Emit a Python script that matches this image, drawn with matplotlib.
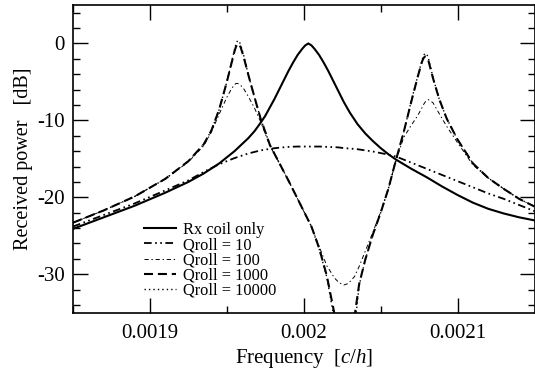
import numpy as np
import matplotlib
matplotlib.use("Agg")
import matplotlib.pyplot as plt
from matplotlib.ticker import MultipleLocator

plt.rcParams['font.family'] = ['Liberation Serif', 'DejaVu Serif']
plt.rcParams['mathtext.fontset'] = 'custom'
plt.rcParams['mathtext.rm'] = 'Liberation Serif'
plt.rcParams['mathtext.it'] = 'Liberation Serif:italic'
plt.rcParams['axes.unicode_minus'] = False
plt.rcParams['lines.scale_dashes'] = False

# frequencies in units of 1e-5 c/h
rx_freq = [185.0, 187.0, 189.0, 191.0, 192.5, 193.5, 194.5, 195.5, 196.4, 196.8,
           197.2, 197.5, 197.8, 198.1, 198.4, 198.7, 199.0, 199.3, 199.6, 199.9,
           200.1, 200.3, 200.5, 200.7, 201.0, 201.3, 201.6, 201.9, 202.2, 202.6,
           203.0, 203.5, 204.0, 204.5, 205.0, 205.5, 206.0, 207.0, 208.0, 209.0,
           210.0, 211.0, 212.0, 213.0, 214.0, 215.0]

rx_only = [-24.1, -22.6, -21.1, -19.4, -18.0, -16.9, -15.6, -14.0, -12.3, -11.4,
           -10.3, -9.4, -8.3, -7.2, -6.0, -4.8, -3.6, -2.5, -1.5, -0.7,
           -0.25, 0.0, -0.25, -0.7, -1.5, -2.5, -3.6, -4.8, -6.0, -7.6,
           -9.0, -10.5, -11.7, -12.7, -13.6, -14.4, -15.1, -16.3, -17.4, -18.6,
           -19.7, -20.7, -21.5, -22.1, -22.6, -23.0]

q10 = [-23.8, -22.3, -20.8, -19.1, -17.8, -16.7, -15.7, -14.9, -14.3, -14.1,
       -13.9, -13.8, -13.7, -13.62, -13.55, -13.5, -13.45, -13.42, -13.4, -13.4,
       -13.4, -13.4, -13.4, -13.4, -13.4, -13.42, -13.45, -13.48, -13.5, -13.6,
       -13.66, -13.75, -13.9, -14.05, -14.25, -14.45, -14.7, -15.5, -16.3, -17.1,
       -17.9, -18.7, -19.5, -20.2, -21.0, -21.8]

q_freq = [185.0, 187.0, 189.0, 191.0, 192.5, 193.5, 194.0, 194.5, 195.0, 195.3,
          195.5, 195.6, 195.7, 195.8, 195.9, 196.1, 196.4, 196.8, 197.2, 197.8,
          198.4, 199.0, 199.5, 200.0, 200.5, 201.0, 201.5, 202.0, 202.3, 202.6,
          202.9, 203.3, 203.6, 204.0, 204.5, 205.0, 205.5, 206.0, 206.5, 207.0,
          207.4, 207.7, 207.8, 207.9, 208.0, 208.1, 208.4, 208.8, 209.3, 210.0,
          211.0, 212.0, 213.0, 214.0, 215.0]

q100 = [-23.3, -21.7, -19.9, -17.6, -15.4, -13.3, -11.5, -9.2, -7.0, -5.9,
        -5.35, -5.2, -5.2, -5.3, -5.45, -5.9, -6.9, -8.4, -10.2, -13.3,
        -15.5, -17.8, -19.8, -21.8, -23.8, -26.4, -28.9, -30.5, -31.1, -31.4,
        -31.2, -30.3, -29.0, -27.0, -24.5, -21.9, -18.9, -15.2, -12.2, -10.6,
        -9.4, -8.3, -7.9, -7.6, -7.4, -7.3, -7.7, -9.1, -10.8, -12.9,
        -15.8, -17.5, -18.9, -20.2, -21.2]

q1000 = [-23.3, -21.7, -19.9, -17.6, -15.3, -13.1, -11.3, -8.6, -5.0, -2.6,
         -1.0, -0.4, -0.05, -0.1, -0.5, -1.8, -4.1, -7.0, -9.8, -13.2,
         -15.5, -17.8, -19.8, -21.8, -23.8, -26.6, -30.2, -35.2, -39.0, -42.0,
         -41.0, -35.5, -31.3, -28.1, -24.8, -22.0, -18.9, -15.1, -11.5, -7.5,
         -4.4, -2.3, -1.85, -1.7, -1.8, -2.2, -4.5, -7.2, -9.8, -12.5,
         -15.6, -17.5, -18.9, -20.2, -21.2]

q10000 = [-23.3, -21.7, -19.9, -17.6, -15.3, -13.1, -11.3, -8.6, -5.0, -2.5,
          -0.8, 0.0, 0.35, 0.3, -0.2, -1.6, -4.1, -7.0, -9.8, -13.2,
          -15.5, -17.8, -19.8, -21.8, -23.8, -26.7, -30.4, -36.0, -45.0, -55.0,
          -48.0, -37.0, -31.5, -28.1, -24.8, -22.0, -18.9, -15.1, -11.5, -7.4,
          -4.3, -2.1, -1.5, -1.3, -1.4, -1.9, -4.4, -7.2, -9.8, -12.5,
          -15.6, -17.5, -18.9, -20.2, -21.2]

f_rx = np.array(rx_freq) * 1e-5
f_q = np.array(q_freq) * 1e-5

fig = plt.figure(figsize=(5.35, 3.69), dpi=100)
ax = fig.add_axes([73 / 535, 56.3 / 369, 461.5 / 535, 307.7 / 369])

ax.plot(f_rx, rx_only, color='black', lw=1.5, label='Rx coil only')
ax.plot(f_rx, q10, color='black', lw=1.3, dashes=(5.5, 2.5, 1.2, 2.5, 1.2, 2.5),
        label='Qroll = 10')
ax.plot(f_q, q100, color='black', lw=0.7, dashes=(3.0, 2.0, 1.0, 2.0),
        label='Qroll = 100')
ax.plot(f_q, q1000, color='black', lw=1.5, dashes=(6.5, 3.5),
        label='Qroll = 1000')
ax.plot(f_q, q10000, color='black', lw=1.0, dashes=(1.0, 2.2),
        label='Qroll = 10000')

ax.set_xlim(0.00185, 0.00215)
ax.set_ylim(-35, 5)
ax.set_xticks([0.0019, 0.002, 0.0021])
ax.set_xticklabels(['0.0019', '0.002', '0.0021'])
ax.xaxis.set_minor_locator(MultipleLocator(0.00005))
ax.set_yticks([0, -10, -20, -30])
ax.yaxis.set_minor_locator(MultipleLocator(2))

ax.tick_params(which='both', direction='in', top=True, right=True,
               labelsize=15, width=1.0)
ax.tick_params(axis='x', pad=8)
ax.tick_params(axis='y', pad=6)
ax.tick_params(which='major', length=10.5)
ax.tick_params(which='minor', length=5.2)
for s in ax.spines.values():
    s.set_linewidth(1.2)

ax.set_xlabel(r'Frequency  [$\mathit{c/h}$]', fontsize=15, labelpad=3)
ax.set_ylabel('Received power   [dB]', fontsize=14.5, labelpad=3)

ax.legend(loc='upper left', bbox_to_anchor=(0.154, 0.295), frameon=False,
          fontsize=11.8, borderpad=0, borderaxespad=0, handlelength=1.95,
          handletextpad=0.4, labelspacing=-0.05)

fig.savefig('out.png', dpi=100)
